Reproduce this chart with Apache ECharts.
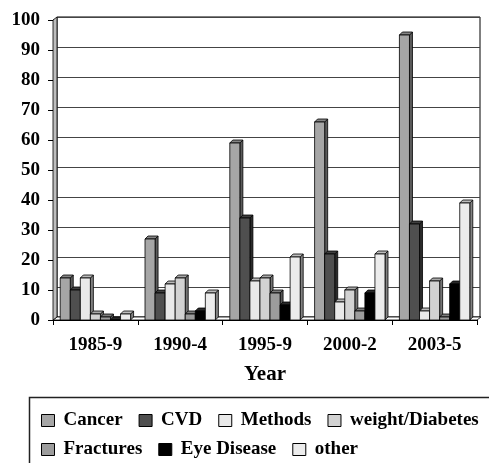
<!DOCTYPE html>
<html>
<head>
<meta charset="utf-8">
<script src="https://cdn.jsdelivr.net/npm/echarts@6/dist/echarts.min.js"></script>
<style>
  html, body { margin: 0; padding: 0; background: #fff; }
  #chart { width: 489px; height: 463px; }
</style>
</head>
<body>
<div id="chart"></div>
<script>
// Publications per topic, grouped by period
const categories = ['1985-9', '1990-4', '1995-9', '2000-2', '2003-5'];
const seriesNames = ['Cancer', 'CVD', 'Methods', 'weight/Diabetes', 'Fractures', 'Eye Disease', 'other'];
const cancer = [14, 27, 59, 66, 95];
const cvd = [10, 9, 34, 22, 32];
const methods = [14, 12, 13, 6, 3];
const weightDiabetes = [2, 14, 14, 10, 13];
const fractures = [1, 2, 9, 3, 1];
const eyeDisease = [0, 3, 5, 9, 12];
const other = [2, 9, 21, 22, 39];
const yTicks = [0, 100, 10]; // min, max, step

const seriesValues = [cancer, cvd, methods, weightDiabetes, fractures, eyeDisease, other];
const fills = ['#a6a6a6', '#4f4f4f', '#e9e9e9', '#d2d2d2', '#9c9c9c', '#000000', '#ececec'];

const FONT = '"Liberation Serif", "Times New Roman", serif';
const DX = 3, DY = 3;          // bar depth offsets
const WDX = 4, WDY = 3;        // wall depth offsets
const GAP_RATIO = 0.17;

function shade(hex, k) {
  const n = parseInt(hex.slice(1), 16);
  const r = Math.round(((n >> 16) & 255) * k);
  const g = Math.round(((n >> 8) & 255) * k);
  const b = Math.round((n & 255) * k);
  return 'rgb(' + r + ',' + g + ',' + b + ')';
}

function barRenderer(barIndex) {
  return function (params, api) {
    const cat = api.value(0);
    const val = api.value(1);
    const band = api.size([1, 0])[0];
    const groupW = band * (1 - GAP_RATIO);
    const barW = groupW / seriesValues.length;
    const base = api.coord([cat, 0]);
    const top = api.coord([cat, val]);
    const x0 = base[0] - groupW / 2 + barIndex * barW;
    const x1 = x0 + barW;
    const yb = base[1];
    const yt = top[1];
    const fill = fills[barIndex];
    const stroke = { stroke: '#000', lineWidth: 0.8 };
    return {
      type: 'group',
      children: [
        { type: 'polygon', shape: { points: [[x1, yt], [x1 + DX, yt - DY], [x1 + DX, yb - DY], [x1, yb]] },
          style: Object.assign({ fill: shade(fill === '#000000' ? '#2a2a2a' : fill, 0.55) }, stroke) },
        { type: 'polygon', shape: { points: [[x0, yt], [x0 + DX, yt - DY], [x1 + DX, yt - DY], [x1, yt]] },
          style: Object.assign({ fill: shade(fill === '#000000' ? '#333333' : fill, 0.8) }, stroke) },
        { type: 'rect', shape: { x: x0, y: yt, width: barW, height: yb - yt },
          style: Object.assign({ fill: fill }, stroke) }
      ]
    };
  };
}

// floor and left wall of the 3D box
function wallRenderer(params, api) {
  const band = api.size([1, 0])[0];
  const left = api.coord([0, 0])[0] - band / 2;
  const right = api.coord([categories.length - 1, 0])[0] + band / 2;
  const y0 = api.coord([0, yTicks[0]])[1];
  const yTop = api.coord([0, yTicks[1]])[1];
  return {
    type: 'group',
    children: [
      { type: 'polygon', shape: { points: [[left, y0], [right, y0], [right + WDX, y0 - WDY], [left + WDX, y0 - WDY]] },
        style: { fill: '#ffffff', stroke: '#000', lineWidth: 0.8 } },
      { type: 'polygon', shape: { points: [[left, y0], [left, yTop], [left + WDX, yTop - WDY], [left + WDX, y0 - WDY]] },
        style: { fill: '#bdbdbd', stroke: '#000', lineWidth: 0.8 } }
    ]
  };
}

const chart = echarts.init(document.getElementById('chart'), null, { renderer: 'canvas' });

const series = seriesNames.map(function (name, i) {
  return {
    name: name,
    type: 'custom',
    xAxisIndex: 0,
    yAxisIndex: 0,
    renderItem: barRenderer(i),
    itemStyle: { color: fills[i], borderColor: '#000', borderWidth: 1 },
    encode: { x: 0, y: 1 },
    data: seriesValues[i].map(function (v, c) { return [c, v]; }),
    z: 3 + i
  };
});
series.unshift({
  name: 'walls',
  type: 'custom',
  xAxisIndex: 0,
  yAxisIndex: 0,
  renderItem: wallRenderer,
  encode: { x: 0, y: 1 },
  data: [[0, 0]],
  silent: true,
  z: 1
});

const legendText = { fontFamily: FONT, fontWeight: 'bold', fontSize: 19, color: '#000', padding: [0, 0, 0, 4] };
const legendItem = { borderColor: '#000', borderWidth: 1 };

chart.setOption({
  animation: false,
  backgroundColor: '#fff',
  grid: [
    { left: 53, right: 12, top: 20, bottom: 143 },
    { left: 57, right: 9, top: 17, bottom: 146, show: true, borderColor: '#000', borderWidth: 1, backgroundColor: 'transparent' }
  ],
  xAxis: [
    {
      type: 'category', gridIndex: 0, data: categories,
      axisLine: { lineStyle: { color: '#000', width: 1 } },
      axisTick: { show: true, length: 5, lineStyle: { color: '#000' } },
      axisLabel: { fontFamily: FONT, fontWeight: 'bold', fontSize: 19, color: '#000', margin: 16 },
      name: 'Year', nameLocation: 'middle', nameGap: 44,
      nameTextStyle: { fontFamily: FONT, fontWeight: 'bold', fontSize: 21, color: '#000' }
    },
    { type: 'value', gridIndex: 1, show: false, min: 0, max: 1 }
  ],
  yAxis: [
    {
      type: 'value', gridIndex: 0, min: yTicks[0], max: yTicks[1], interval: yTicks[2],
      axisLine: { show: true, lineStyle: { color: '#000', width: 1 } },
      axisTick: { show: true, length: 5, lineStyle: { color: '#000' } },
      splitLine: { show: false },
      axisLabel: { fontFamily: FONT, fontWeight: 'bold', fontSize: 19, color: '#000', margin: 13 }
    },
    {
      type: 'value', gridIndex: 1, min: yTicks[0], max: yTicks[1], interval: yTicks[2],
      axisLine: { show: false }, axisTick: { show: false }, axisLabel: { show: false },
      splitLine: { show: true, lineStyle: { color: '#444', width: 1 } }
    }
  ],
  legend: [
    {
      data: seriesNames.slice(0, 4), left: 36, top: 406, itemGap: 16,
      itemWidth: 13, itemHeight: 12, icon: 'rect',
      textStyle: legendText, itemStyle: legendItem
    },
    {
      data: seriesNames.slice(4), left: 36, top: 435, itemGap: 16,
      itemWidth: 13, itemHeight: 12, icon: 'rect',
      textStyle: legendText, itemStyle: legendItem
    }
  ],
  graphic: [
    { type: 'rect', left: 27, top: 395, shape: { x: 0, y: 0, width: 480, height: 90 },
      style: { fill: 'none', stroke: '#222', lineWidth: 1.5 }, silent: true }
  ],
  series: series
});
</script>
</body>
</html>
